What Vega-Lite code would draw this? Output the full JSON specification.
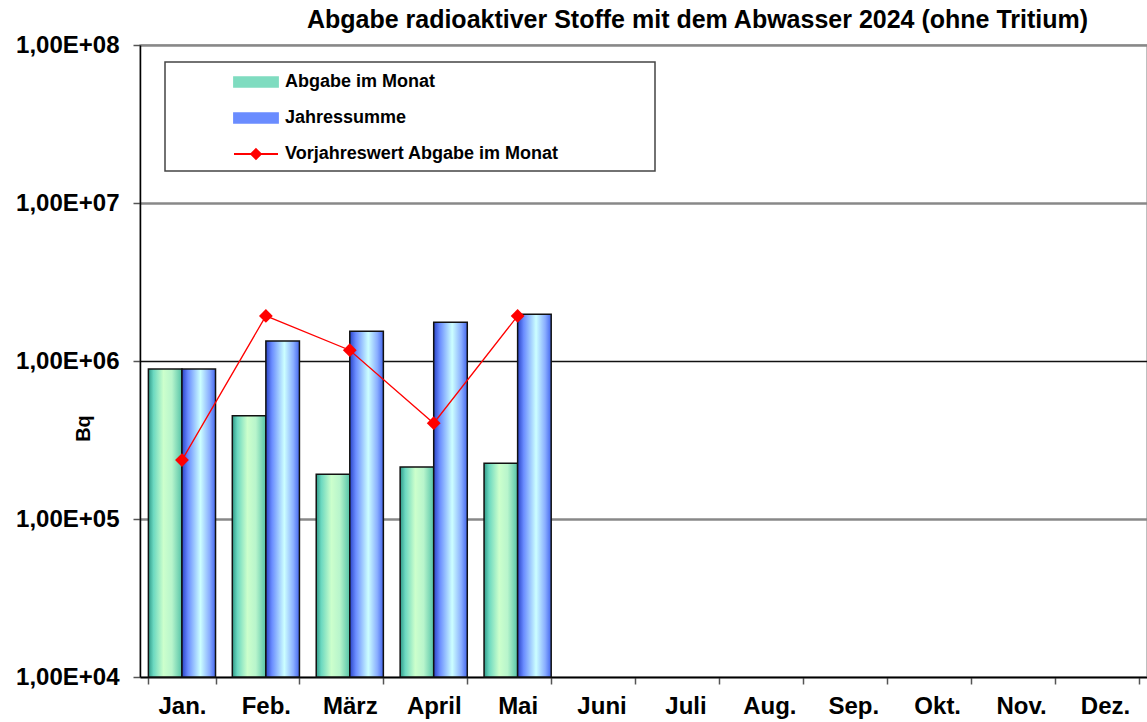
{
  "$schema": "https://vega.github.io/schema/vega-lite/v6.json",
  "width": 1007,
  "height": 632,
  "autosize": "none",
  "padding": {"left": 140, "top": 45, "right": 0, "bottom": 45},
  "background": "white",
  "config": {
    "font": "Liberation Sans",
    "view": {"stroke": "#aaa", "strokeWidth": 1.5}
  },
  "title": {
    "text": "Abgabe radioaktiver Stoffe mit dem Abwasser 2024 (ohne Tritium)",
    "fontSize": 25,
    "fontWeight": "bold",
    "color": "#000",
    "anchor": "middle",
    "frame": "group",
    "dx": 54,
    "offset": 0
  },
  "data": {
    "values": [
      {"month": "Jan.", "series": "Abgabe im Monat", "value": 890000},
      {"month": "Feb.", "series": "Abgabe im Monat", "value": 451000},
      {"month": "März", "series": "Abgabe im Monat", "value": 192000},
      {"month": "April", "series": "Abgabe im Monat", "value": 213000},
      {"month": "Mai", "series": "Abgabe im Monat", "value": 225000},
      {"month": "Jan.", "series": "Jahressumme", "value": 890000},
      {"month": "Feb.", "series": "Jahressumme", "value": 1340000},
      {"month": "März", "series": "Jahressumme", "value": 1540000},
      {"month": "April", "series": "Jahressumme", "value": 1760000},
      {"month": "Mai", "series": "Jahressumme", "value": 1980000},
      {"month": "Jan.", "series": "Vorjahreswert Abgabe im Monat", "value": 236000},
      {"month": "Feb.", "series": "Vorjahreswert Abgabe im Monat", "value": 1930000},
      {"month": "März", "series": "Vorjahreswert Abgabe im Monat", "value": 1170000},
      {"month": "April", "series": "Vorjahreswert Abgabe im Monat", "value": 404000},
      {"month": "Mai", "series": "Vorjahreswert Abgabe im Monat", "value": 1930000}
    ]
  },
  "encoding": {
    "x": {
      "field": "month",
      "type": "nominal",
      "sort": null,
      "scale": {
        "domain": ["Jan.", "Feb.", "März", "April", "Mai", "Juni", "Juli", "Aug.", "Sep.", "Okt.", "Nov.", "Dez."],
        "paddingInner": 0.2,
        "paddingOuter": 0.1
      },
      "axis": {
        "title": null,
        "labelAngle": 0,
        "labelFontSize": 24,
        "labelFontWeight": "bold",
        "labelColor": "#000",
        "labelPadding": 10,
        "tickBand": "extent",
        "tickSize": 7,
        "tickColor": "#555",
        "tickWidth": 1.5,
        "domainColor": "#000",
        "domainWidth": 1.5,
        "grid": false
      }
    },
    "y": {
      "field": "value",
      "type": "quantitative",
      "scale": {"type": "log", "domain": [10000, 100000000], "nice": false},
      "axis": {
        "title": "Bq",
        "titleFontSize": 20,
        "titleFontWeight": "bold",
        "titleColor": "#000",
        "titleX": -57,
        "titleY": 383,
        "titleBaseline": "middle",
        "values": [10000, 100000, 1000000, 10000000, 100000000],
        "labelExpr": "'1,00E+0' + round(log(datum.value) / LN10)",
        "labelFontSize": 24,
        "labelFontWeight": "bold",
        "labelColor": "#000",
        "labelPadding": 14,
        "tickSize": 7,
        "tickColor": "#555",
        "tickWidth": 1.5,
        "domainColor": "#000",
        "domainWidth": 1.5,
        "grid": true,
        "gridColor": {"condition": {"test": "datum.value === 1000000", "value": "#111"}, "value": "#888"},
        "gridWidth": {"condition": {"test": "datum.value === 1000000", "value": 1.6}, "value": 2.4}
      }
    }
  },
  "layer": [
    {
      "transform": [{"filter": "datum.series !== 'Vorjahreswert Abgabe im Monat'"}],
      "mark": {"type": "bar", "stroke": "#111", "strokeWidth": 1.5},
      "encoding": {
        "y2": {"datum": 10000},
        "xOffset": {
          "field": "series",
          "type": "nominal",
          "scale": {"domain": ["Abgabe im Monat", "Jahressumme"], "paddingInner": 0, "paddingOuter": 0}
        },
        "fill": {
          "condition": {
            "test": "datum.series === 'Jahressumme'",
            "value": {
              "gradient": "linear", "x1": 0, "y1": 0, "x2": 1, "y2": 0,
              "stops": [
                {"offset": 0, "color": "#2a44c8"},
                {"offset": 0.18, "color": "#6a8cff"},
                {"offset": 0.55, "color": "#ccffff"},
                {"offset": 0.82, "color": "#8aaeff"},
                {"offset": 1, "color": "#4466ee"}
              ]
            }
          },
          "value": {
            "gradient": "linear", "x1": 0, "y1": 0, "x2": 1, "y2": 0,
            "stops": [
              {"offset": 0, "color": "#2f9a88"},
              {"offset": 0.15, "color": "#6bd8c0"},
              {"offset": 0.45, "color": "#ccffcc"},
              {"offset": 0.7, "color": "#b8f5cc"},
              {"offset": 1, "color": "#55c4a8"}
            ]
          }
        }
      }
    },
    {
      "transform": [{"filter": "datum.series === 'Vorjahreswert Abgabe im Monat'"}],
      "mark": {
        "type": "line",
        "strokeWidth": 1.3,
        "point": {"shape": "diamond", "size": 190, "filled": true, "opacity": 1}
      },
      "encoding": {
        "color": {
          "field": "series",
          "type": "nominal",
          "scale": {
            "domain": ["Abgabe im Monat", "Jahressumme", "Vorjahreswert Abgabe im Monat"],
            "range": ["#7fdcc0", "#6a8cff", "#ff0000"]
          },
          "legend": {
            "orient": "none",
            "legendX": 25,
            "legendY": 17,
            "title": " ",
            "titleOrient": "right",
            "titlePadding": 88,
            "titleFontSize": 10,
            "strokeColor": "#444",
            "fillColor": "#fff",
            "padding": 8,
            "labelFontSize": 18,
            "labelFontWeight": "bold",
            "labelColor": "#000",
            "labelLimit": 500,
            "labelOffset": 17,
            "symbolOffset": 71,
            "symbolSize": 484,
            "rowPadding": 15,
            "encode": {
              "legend": {
                "update": {
                  "strokeWidth": {"value": 1.5}
                }
              },
              "symbols": {
                "update": {
                  "shape": {"signal": "datum.value === 'Vorjahreswert Abgabe im Monat' ? 'M-2,0H2M0,-0.45L0.45,0L0,0.45L-0.45,0Z' : 'M-2,-0.45H2V0.45H-2Z'"},
                  "strokeWidth": {"value": 1.8},
                  "opacity": {"value": 1},
                  "fillOpacity": {"value": 1}
                }
              }
            }
          }
        }
      }
    }
  ]
}
